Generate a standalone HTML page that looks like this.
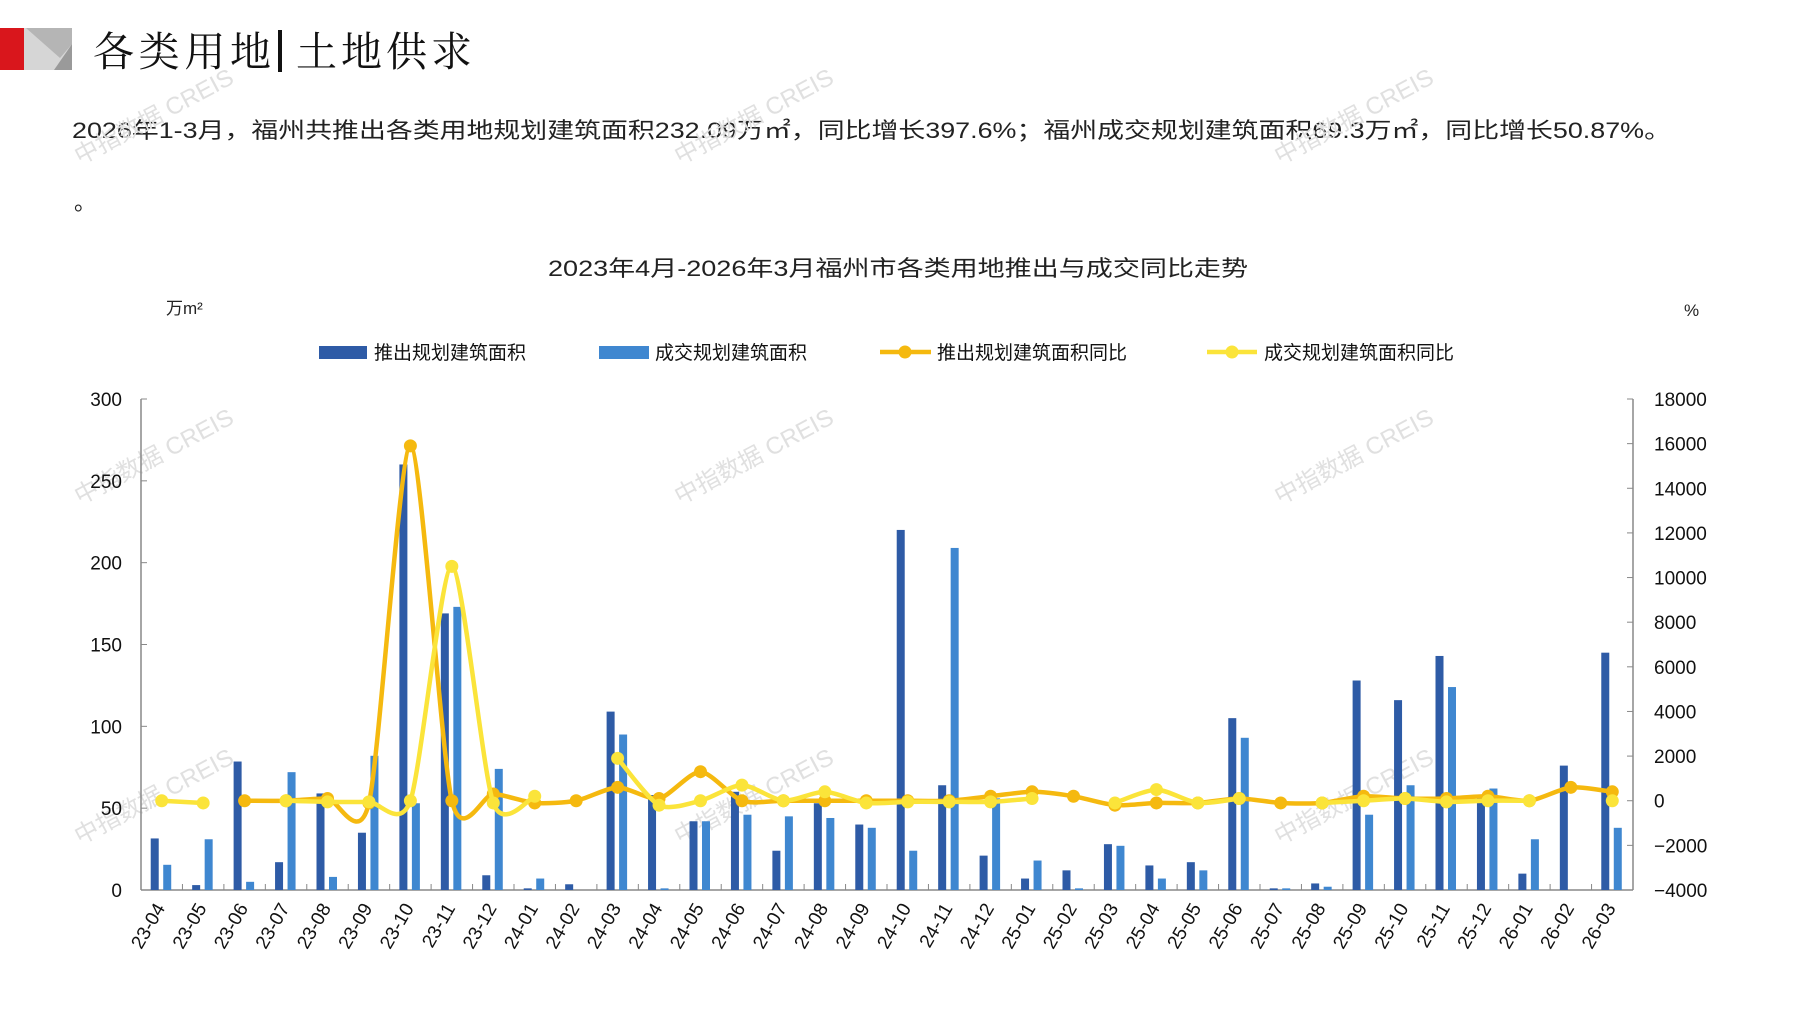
<!DOCTYPE html>
<html><head><meta charset="utf-8"><style>
html,body{margin:0;padding:0;background:#fff;}
body{width:1797px;height:1010px;overflow:hidden;}
svg text{font-family:"Liberation Sans","Noto Sans CJK SC",sans-serif;}
svg text.ser{font-family:"Liberation Serif","Noto Serif CJK SC",serif;}
</style></head><body>
<svg id="s" width="1797" height="1010" xmlns="http://www.w3.org/2000/svg">
<polygon points="0,28 26,28 33,44 25,70 0,70" fill="#d9161c"/>
<polygon points="24,28 72,28 72,70 24,70" fill="#d6d6d6"/>
<polygon points="26,28 72,28 72,44 60,58" fill="#b5b5b5"/>
<polygon points="72,44 72,70 54,70" fill="#9a9a9a"/>
<text class="ser" x="93" y="66" font-size="41" fill="#111" textLength="178" lengthAdjust="spacing">各类用地</text>
<rect x="278" y="30" width="4" height="42" fill="#111"/>
<text class="ser" x="296" y="66" font-size="41" fill="#111" textLength="176" lengthAdjust="spacing">土地供求</text>
<text x="72" y="138" font-size="22" fill="#222" textLength="1599" lengthAdjust="spacingAndGlyphs">2026年1-3月，福州共推出各类用地规划建筑面积232.09万㎡，同比增长397.6%；福州成交规划建筑面积69.3万㎡，同比增长50.87%。</text>
<text x="74" y="210" font-size="22" fill="#222">。</text>
<text x="898" y="276" font-size="22" fill="#222" text-anchor="middle" textLength="700" lengthAdjust="spacingAndGlyphs">2023年4月-2026年3月福州市各类用地推出与成交同比走势</text>
<text x="166" y="314" font-size="17" fill="#222">万m²</text>
<text x="1684" y="316" font-size="17" fill="#222">%</text>
<g id="g"></g>
</svg>
<script>
const NS="http://www.w3.org/2000/svg",g=document.getElementById('g');
function el(t,a,txt){const e=document.createElementNS(NS,t);for(const k in a)e.setAttribute(k,a[k]);if(txt!=null)e.textContent=txt;g.appendChild(e);return e;}
const L=141,R=1633,T=399,B=890,n=36,bw=(R-L)/n;
const yl=v=>B-(v/300)*(B-T), yr=v=>B-((v+4000)/22000)*(B-T);
const cats=[];for(let i=0;i<n;i++){const m=i+3;const y=23+Math.floor(m/12),mm=m%12+1;cats.push(y+'-'+String(mm).padStart(2,'0'));}
const dark=[31.5,3,78.5,17,59,35,260,169,9,1,3.5,109,58,42,60,24,53,40,220,64,21,7,12,28,15,17,105,1,4,128,116,143,57,10,76,145];
const light=[15.4,31,5,72,8,82,53,173,74,7,0,95,1,42,46,45,44,38,24,209,56,18,1,27,7,12,93,1,2,46,64,124,62,31,0,38];
const org=[null,null,0,0,100,-100,15900,0,300,-100,0,600,100,1300,0,0,0,0,0,0,200,400,200,-200,-100,-100,100,-100,-100,200,100,100,200,0,600,400];
const yel=[0,-100,null,0,-50,-50,0,10500,-100,200,null,1900,-200,0,700,0,400,-100,-50,-50,-50,100,null,-100,500,-100,100,null,-100,0,100,-50,0,0,null,0];
[[80,165],[680,165],[1280,165],[80,505],[680,505],[1280,505],[80,845],[680,845],[1280,845]].forEach(p=>{el('text',{x:p[0],y:p[1],'font-size':24,fill:'#e0e0e0',transform:`rotate(-28 ${p[0]} ${p[1]})`},'中指数据 CREIS');});
el('line',{x1:L,y1:T,x2:L,y2:B,stroke:'#888','stroke-width':1.5});
el('line',{x1:R,y1:T,x2:R,y2:B,stroke:'#888','stroke-width':1.5});
el('line',{x1:L,y1:B,x2:R,y2:B,stroke:'#888','stroke-width':1.5});
for(let v=0;v<=300;v+=50){const y=yl(v);el('line',{x1:L,y1:y,x2:L+6,y2:y,stroke:'#888'});el('text',{x:122,y:y+7,'font-size':19,'text-anchor':'end',fill:'#111'},v);}
for(let v=-4000;v<=18000;v+=2000){const y=yr(v);el('line',{x1:R-6,y1:y,x2:R,y2:y,stroke:'#888'});el('text',{x:1654,y:y+7,'font-size':19,fill:'#111'},(v<0?'−':'')+Math.abs(v));}
for(let i=0;i<=n;i++){const x=L+i*bw;el('line',{x1:x,y1:B,x2:x,y2:B-6,stroke:'#888'});}
for(let i=0;i<n;i++){const c=L+(i+.5)*bw;
 if(dark[i]>0)el('rect',{x:c-11,y:yl(dark[i]),width:8,height:B-yl(dark[i]),fill:'#2e5ba6'});
 if(light[i]>0)el('rect',{x:c+1.5,y:yl(light[i]),width:8,height:B-yl(light[i]),fill:'#3f87d0'});
 el('text',{x:c+4,y:B+18,'font-size':19,'text-anchor':'end',fill:'#111',transform:`rotate(-60 ${c+4} ${B+18})`},cats[i]);
}
function line(data,col){
 let segs=[],cur=[];data.forEach((v,i)=>{if(v==null){if(cur.length)segs.push(cur);cur=[];}else cur.push([L+(i+.5)*bw,yr(v)]);});if(cur.length)segs.push(cur);
 segs.forEach(p=>{if(p.length<2)return;let d=`M${p[0][0]},${p[0][1]}`;
  for(let i=0;i<p.length-1;i++){const p0=p[i-1]||p[i],p1=p[i],p2=p[i+1],p3=p[i+2]||p2,t=1/8;
   d+=` C${p1[0]+(p2[0]-p0[0])*t},${p1[1]+(p2[1]-p0[1])*t} ${p2[0]-(p3[0]-p1[0])*t},${p2[1]-(p3[1]-p1[1])*t} ${p2[0]},${p2[1]}`;}
  el('path',{d,fill:'none',stroke:col,'stroke-width':4.5,'stroke-linejoin':'round'});});
 segs.forEach(p=>p.forEach(q=>el('circle',{cx:q[0],cy:q[1],r:6.5,fill:col})));
}
line(org,'#f5b90f');line(yel,'#fbe43a');
el('rect',{x:319,y:346,width:48,height:13,fill:'#2e5ba6'});el('text',{x:374,y:359,'font-size':19,fill:'#111'},'推出规划建筑面积');
el('rect',{x:599,y:346,width:50,height:13,fill:'#3f87d0'});el('text',{x:655,y:359,'font-size':19,fill:'#111'},'成交规划建筑面积');
el('line',{x1:880,y1:352,x2:931,y2:352,stroke:'#f5b90f','stroke-width':4.5});el('circle',{cx:905,cy:352,r:6.5,fill:'#f5b90f'});el('text',{x:937,y:359,'font-size':19,fill:'#111'},'推出规划建筑面积同比');
el('line',{x1:1207,y1:352,x2:1257,y2:352,stroke:'#fbe43a','stroke-width':4.5});el('circle',{cx:1232,cy:352,r:6.5,fill:'#fbe43a'});el('text',{x:1264,y:359,'font-size':19,fill:'#111'},'成交规划建筑面积同比');
</script>
</body></html>
